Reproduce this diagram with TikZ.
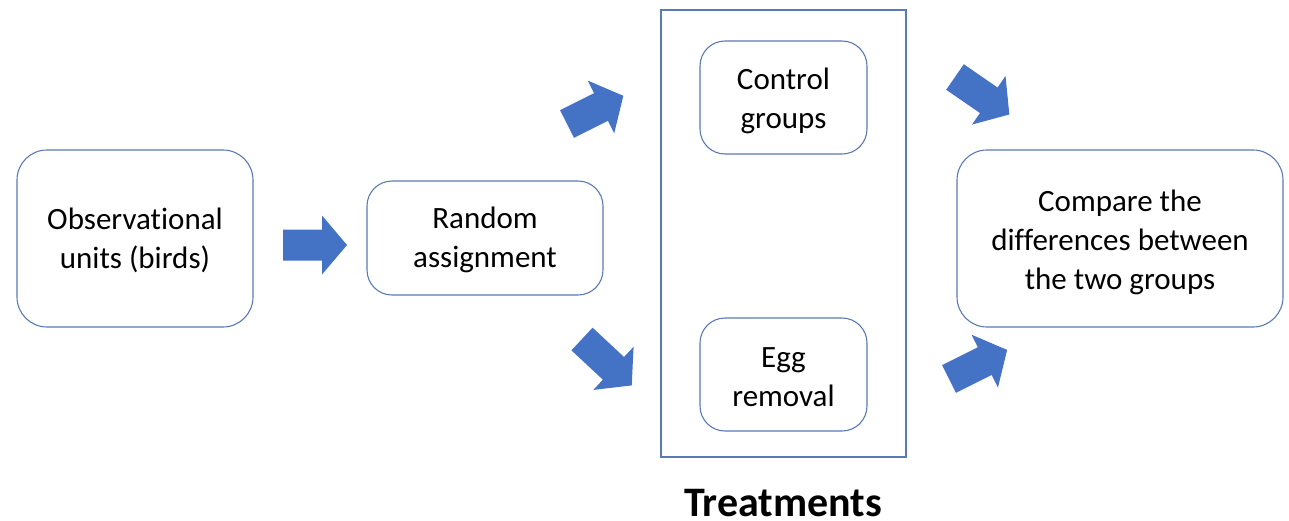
\documentclass[tikz,border=0pt]{standalone}
\usepackage{fontspec}
\setmainfont{Carlito}[Ligatures=CommonOff]
\definecolor{ablue}{HTML}{4472C4}
\definecolor{bline}{HTML}{5A7AB5}
\begin{document}
\begin{tikzpicture}[x=1pt,y=-1pt,
  box/.style={draw=bline,line width=1.1pt},
  txt/.style={align=center,font=\fontsize{31}{39}\selectfont,inner sep=0pt},
  blockarrow/.pic={\fill[ablue] (0,-15.5) -- (#1-25,-15.5) -- (#1-25,-29.5) -- (#1,0) -- (#1-25,29.5) -- (#1-25,15.5) -- (0,15.5) -- cycle;},
  blockarrow/.default=64]
\useasboundingbox (0,0) rectangle (1289,520);
% boxes
\draw[box,rounded corners=30pt] (17,150) rectangle (253,327);
\node[txt] (obs) at (135,240.5) {Observational\\units (birds)};
\draw[box,rounded corners=25pt] (367,181) rectangle (603,295);
\node[txt] (rand) at (485,240) {Random\\assignment};
\draw[box] (661,10) rectangle (906,457);
\draw[box,rounded corners=25pt] (700,41) rectangle (867,154);
\node[txt] (ctrl) at (783.5,100.5) {Control\\groups};
\draw[box,rounded corners=25pt] (700,318) rectangle (867,431);
\node[txt] (egg) at (783.5,377) {Egg\\removal};
\draw[box,rounded corners=30pt] (957,150) rectangle (1283,327);
\node[txt] (cmp) at (1120,242.5) {Compare the\\differences between\\the two groups};
\node[font=\bfseries\fontsize{42}{48}\selectfont,anchor=base,inner sep=0pt] (treat) at (783,516) {Treatments};
% arrows
\pic (a1) at (283,245) {blockarrow=64};
\pic[rotate=26.6] (a2) at (567,124) {blockarrow=63};
\pic[rotate=-43] (a3) at (582,339) {blockarrow=68};
\pic[rotate=-34.6] (a4) at (955,77) {blockarrow=66};
\pic[rotate=26.6] (a5) at (949,379) {blockarrow=65};
\end{tikzpicture}
\end{document}
